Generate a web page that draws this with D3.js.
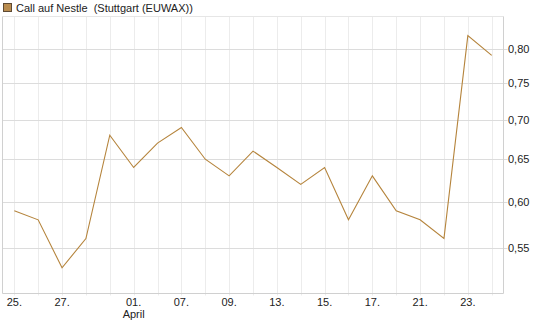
<!DOCTYPE html>
<html>
<head>
<meta charset="utf-8">
<script src="https://cdn.jsdelivr.net/npm/d3@7"></script>
<style>
  body { margin: 0; background: #fff; }
  svg { display: block; font-family: "Liberation Sans", Arial, sans-serif; }
</style>
</head>
<body>
<svg id="chart" width="545" height="327"></svg>
<script>
// Data
const categories = ["25.","26.","27.","28.","29.","01.","04.","07.","08.","09.","12.","13.","14.","15.","16.","17.","20.","21.","22.","23.","24."];
const values = [0.59,0.58,0.53,0.56,0.68,0.64,0.67,0.69,0.65,0.63,0.66,0.64,0.62,0.64,0.58,0.63,0.59,0.58,0.56,0.82,0.79];
const tickLabels = ["25.","27.","01.","07.","09.","13.","15.","17.","21.","23."];
const monthLabels = [{at: "01.", text: "April"}];
const yTicks = [0.55,0.60,0.65,0.70,0.75,0.80];
const yDomain = [0.505, 0.85];
const seriesName = "Call auf Nestle  (Stuttgart (EUWAX))";

(function () {
const svg = d3.select("#chart");
const pL = 2.5, pR = 503.5, pT = 16.5, pB = 293.5;

const x = d3.scalePoint().domain(categories).range([14.3, 491.7]);
const y = d3.scaleLog().domain(yDomain).range([pB, pT]);

// vertical grid
svg.append("g").selectAll("line").data(categories).join("line")
  .attr("x1", d => Math.round(x(d)) + 0.5).attr("x2", d => Math.round(x(d)) + 0.5)
  .attr("y1", pT).attr("y2", pB + 2)
  .attr("stroke", "#ececec").attr("stroke-width", 1);

// horizontal grid
svg.append("g").selectAll("line").data(yTicks).join("line")
  .attr("x1", pL).attr("x2", pR + 4)
  .attr("y1", d => Math.round(y(d)) + 0.5).attr("y2", d => Math.round(y(d)) + 0.5)
  .attr("stroke", "#dcdcdc").attr("stroke-width", 1);

// frame
svg.append("line").attr("x1", pL).attr("x2", pR).attr("y1", pT).attr("y2", pT).attr("stroke", "#e6e6e6");
svg.append("line").attr("x1", pL).attr("x2", pL).attr("y1", pT).attr("y2", pB).attr("stroke", "#d0d0d0");
svg.append("line").attr("x1", pR).attr("x2", pR).attr("y1", pT).attr("y2", pB).attr("stroke", "#d0d0d0");
svg.append("line").attr("x1", pL).attr("x2", pR).attr("y1", pB).attr("y2", pB).attr("stroke", "#d0d0d0");

// y labels
svg.append("g").selectAll("text").data(yTicks).join("text")
  .attr("x", 508).attr("y", d => y(d) + 4)
  .attr("font-size", 11).attr("fill", "#222")
  .text(d => d3.format(".2f")(d).replace(".", ","));

// x labels
svg.append("g").selectAll("text").data(tickLabels).join("text")
  .attr("x", d => x(d)).attr("y", 306)
  .attr("text-anchor", "middle")
  .attr("font-size", 11).attr("fill", "#222")
  .text(d => d);

svg.append("g").selectAll("text").data(monthLabels).join("text")
  .attr("x", d => x(d.at)).attr("y", 318)
  .attr("text-anchor", "middle")
  .attr("font-size", 11).attr("fill", "#222")
  .text(d => d.text);

// line
const line = d3.line().x((d, i) => x(categories[i])).y(d => y(d));
svg.append("path").datum(values)
  .attr("d", line).attr("fill", "none")
  .attr("stroke", "#b5843c").attr("stroke-width", 1.1);

// legend
svg.append("rect").attr("x", 3.5).attr("y", 3.5).attr("width", 8).attr("height", 8)
  .attr("fill", "#b98c4f").attr("stroke", "#5e4a34");
svg.append("text").attr("x", 16).attr("y", 12)
  .attr("font-size", 11).attr("fill", "#222")
  .attr("xml:space", "preserve")
  .style("white-space", "pre")
  .text(seriesName);
})();
</script>
</body>
</html>
